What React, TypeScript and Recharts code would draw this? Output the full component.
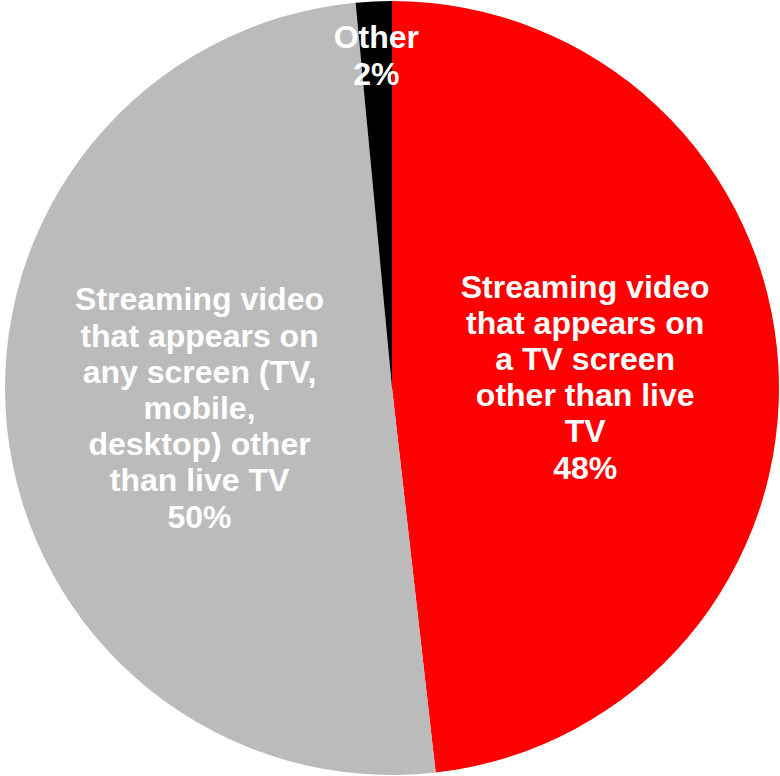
import React from "react";
import { PieChart, Pie, Cell } from "recharts";

// slice values (clockwise from 12 o'clock)
const CATEGORIES = ["TV screen streaming", "Any screen streaming", "Other"];
const VALUES = [48.2, 50.3, 1.5];
const LABEL_LINES = [
  ["Streaming video", "that appears on", "a TV screen", "other than live", "TV"],
  ["Streaming video", "that appears on", "any screen (TV,", "mobile,", "desktop) other", "than live TV"],
  ["Other"],
];
const COLORS = ["#ff0000", "#bbbbbb", "#000000"];

// how far out along the radius each label sits
const LABEL_RADIUS = [0.5, 0.5, 0.86];

const data = CATEGORIES.map((name, i) => ({ name, value: VALUES[i] }));
const total = VALUES.reduce((a, b) => a + b, 0);

const RADIAN = Math.PI / 180;

const renderLabel = (props: any) => {
  const { cx, cy, midAngle, outerRadius, index, value } = props;
  const r = outerRadius * LABEL_RADIUS[index];
  const x = cx + r * Math.cos(-midAngle * RADIAN);
  const y = cy + r * Math.sin(-midAngle * RADIAN);
  const lines = [...LABEL_LINES[index], `${Math.round((value / total) * 100)}%`];
  const lh = 36.2;
  return (
    <text
      x={x}
      y={y}
      fill="#ffffff"
      textAnchor="middle"
      dominantBaseline="central"
      fontFamily="'Liberation Sans', Arial, sans-serif"
      fontWeight="bold"
      fontSize={32}
    >
      {lines.map((line, i) => (
        <tspan key={i} x={x} y={y + (i - (lines.length - 1) / 2) * lh}>
          {line}
        </tspan>
      ))}
    </text>
  );
};

export default function App() {
  return (
    <div style={{ position: "absolute", left: 0, top: 0, width: 780, height: 776, background: "#fff" }}>
      <PieChart width={780} height={776} margin={{ top: 0, right: 0, bottom: 0, left: 0 }}>
        <Pie
          data={data}
          dataKey="value"
          cx={392}
          cy={388}
          outerRadius={387}
          startAngle={90}
          endAngle={-270}
          stroke="none"
          labelLine={false}
          label={renderLabel}
          isAnimationActive={false}
        >
          {data.map((entry, index) => (
            <Cell key={`cell-${index}`} fill={COLORS[index]} />
          ))}
        </Pie>
      </PieChart>
    </div>
  );
}
